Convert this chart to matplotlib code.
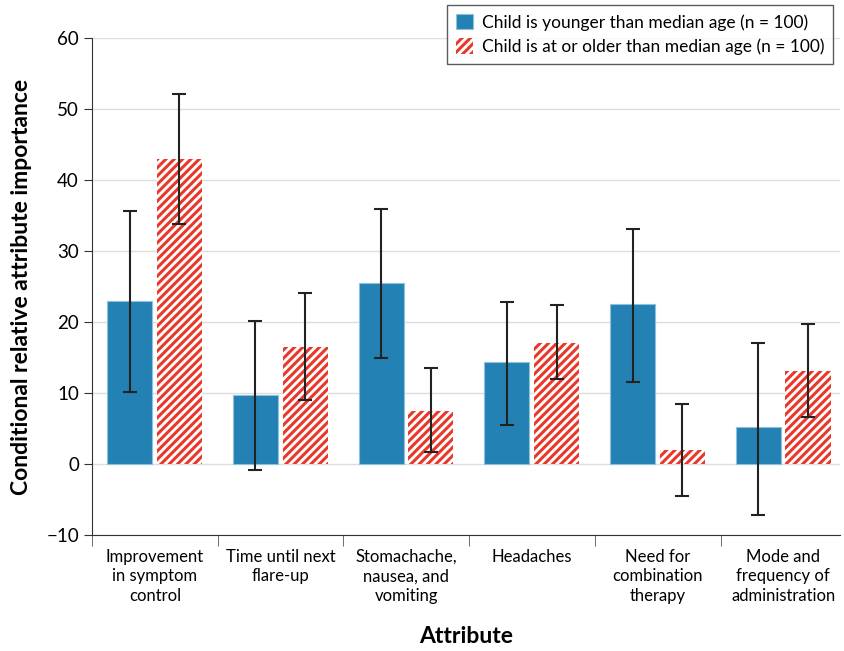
import numpy as np
import matplotlib.pyplot as plt

plt.rcParams['font.family'] = ['Lato', 'DejaVu Sans']
plt.rcParams['hatch.linewidth'] = 2.2

attributes = [
    "Improvement\nin symptom\ncontrol",
    "Time until next\nflare-up",
    "Stomachache,\nnausea, and\nvomiting",
    "Headaches",
    "Need for\ncombination\ntherapy",
    "Mode and\nfrequency of\nadministration",
]

# younger than median age
young = [23.0, 9.7, 25.5, 14.4, 22.5, 5.2]
young_lo = [10.1, -0.8, 14.9, 5.5, 11.5, -7.2]
young_hi = [35.6, 20.1, 35.9, 22.8, 33.1, 17.0]

# at or older than median age
older = [43.0, 16.5, 7.5, 17.0, 2.0, 13.1]
older_lo = [33.8, 9.0, 1.7, 12.0, -4.5, 6.6]
older_hi = [52.1, 24.1, 13.5, 22.4, 8.5, 19.7]

blue = "#2381b3"
red = "#e8392c"

x = np.arange(len(attributes))
w = 0.36

fig = plt.figure(figsize=(8.45, 6.51), dpi=100)
ax = fig.add_axes([0.109, 0.178, 0.885, 0.764])

young_err = [np.array(young) - np.array(young_lo), np.array(young_hi) - np.array(young)]
older_err = [np.array(older) - np.array(older_lo), np.array(older_hi) - np.array(older)]

ax.bar(x - 0.2, young, w, color=blue, edgecolor="#8fc0dc", linewidth=0.8,
       label="Child is younger than median age (n = 100)", zorder=2)
ax.bar(x + 0.195, older, w, color="white", edgecolor=red, hatch="////", linewidth=0,
       label="Child is at or older than median age (n = 100)", zorder=2)

ax.errorbar(x - 0.2, young, yerr=young_err, fmt="none", ecolor="#222222",
            elinewidth=1.5, capsize=5, capthick=1.5, zorder=3)
ax.errorbar(x + 0.195, older, yerr=older_err, fmt="none", ecolor="#222222",
            elinewidth=1.5, capsize=5, capthick=1.5, zorder=3)

ax.set_xlim(-0.5, 5.45)
ax.set_ylim(-10, 60)
ax.set_yticks(range(-10, 61, 10))
ax.set_yticklabels(["\u221210"] + [str(v) for v in range(0, 61, 10)], fontsize=13.5)
ax.yaxis.grid(True, color="#dddddd", linewidth=1, zorder=0)
ax.set_axisbelow(True)

ax.set_xticks(x)
ax.set_xticklabels(attributes, fontsize=12, linespacing=1.25)
ax.tick_params(axis="x", which="major", length=0, pad=10)
ax.set_xticks(np.arange(-0.5, 5.0, 1), minor=True)
ax.tick_params(axis="x", which="minor", length=8, color="#555555")
ax.tick_params(axis="y", length=6, color="#333333")

for s in ["top", "right"]:
    ax.spines[s].set_visible(False)
ax.spines["left"].set_color("#333333")
ax.spines["bottom"].set_color("#333333")

ax.set_xlabel("Attribute", fontsize=16.5, fontweight="bold", labelpad=16)
ax.set_ylabel("Conditional relative attribute importance", fontsize=16.5, fontweight="bold", labelpad=10)

leg = fig.legend(loc="upper right", bbox_to_anchor=(0.986, 0.992), borderaxespad=0,
                 fontsize=12.5, frameon=True, fancybox=False, edgecolor="#333333",
                 handlelength=1.0, handleheight=1.0, handletextpad=0.5,
                 borderpad=0.5, labelspacing=0.45)
leg.get_frame().set_linewidth(1.0)

plt.savefig("out.png", dpi=100)
